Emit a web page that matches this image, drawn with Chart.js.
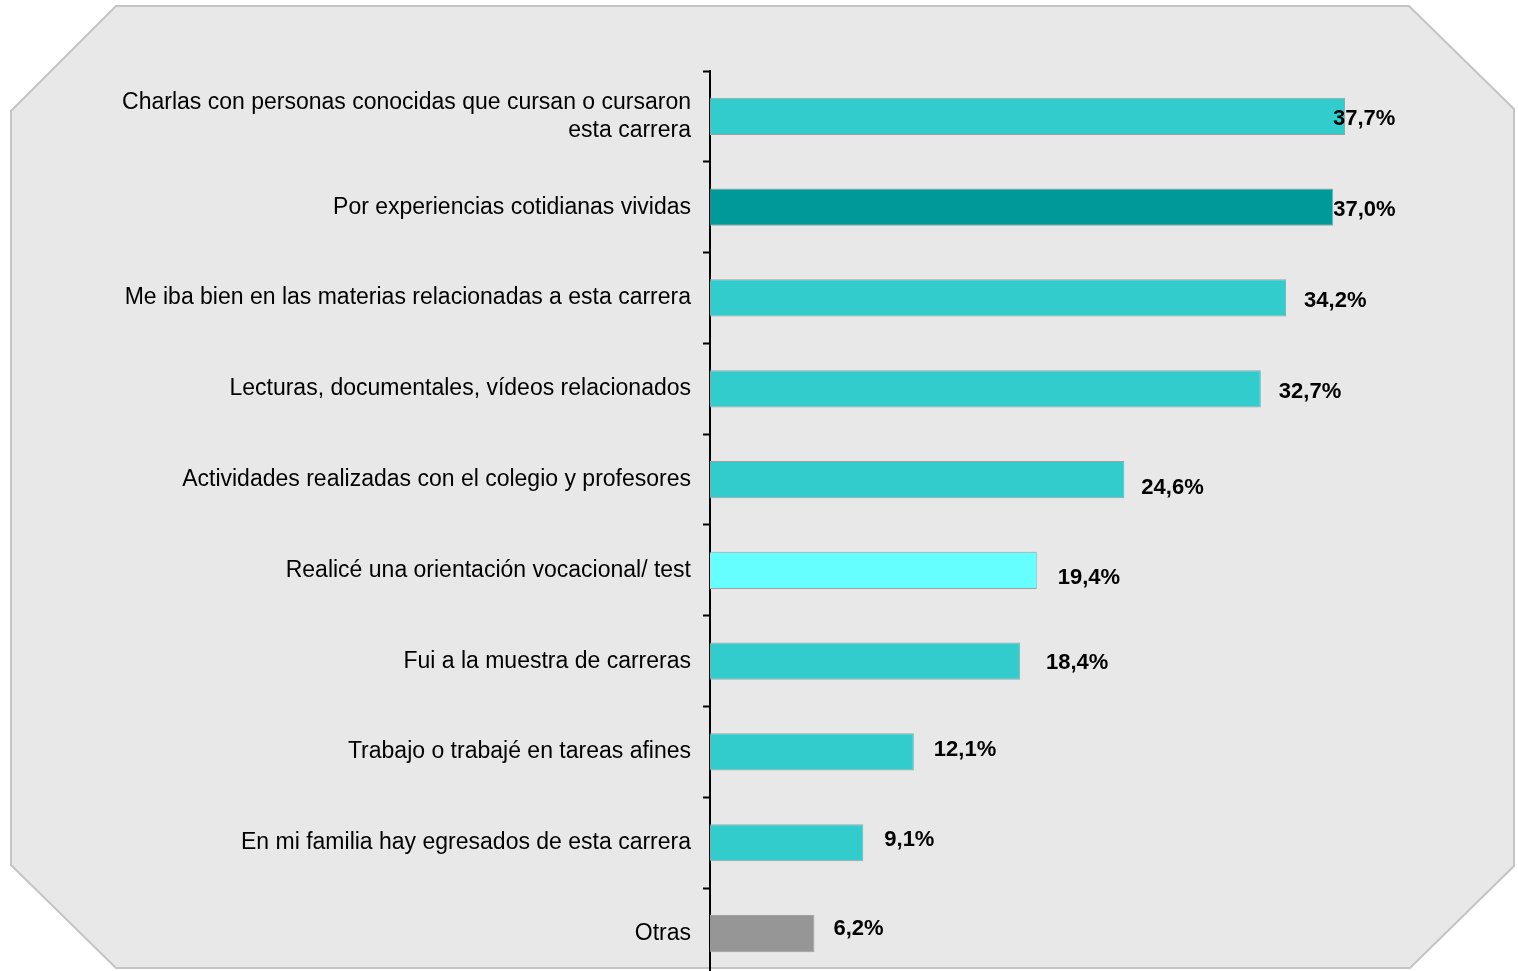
<!DOCTYPE html>
<html>
<head>
<meta charset="utf-8">
<script src="https://cdn.jsdelivr.net/npm/chart.js@4/dist/chart.umd.min.js"></script>
<style>
  html, body { margin: 0; padding: 0; overflow: hidden; background: #fff; }
  #wrap { width: 1518px; height: 1019px; }
</style>
</head>
<body>
<div id="wrap"><canvas id="chart1"></canvas></div>
<script>
// categories (top to bottom)
var categories = [
  ["Charlas con personas conocidas que cursan o cursaron", "esta carrera"],
  "Por experiencias cotidianas vividas",
  "Me iba bien en las materias relacionadas a esta carrera",
  "Lecturas, documentales, vídeos relacionados",
  "Actividades realizadas con el colegio y profesores",
  "Realicé una orientación vocacional/ test",
  "Fui a la muestra de carreras",
  "Trabajo o trabajé en tareas afines",
  "En mi familia hay egresados de esta carrera",
  "Otras"
];
var values = [37.7, 37.0, 34.2, 32.7, 24.6, 19.4, 18.4, 12.1, 9.1, 6.2];
var valueLabels = ["37,7%", "37,0%", "34,2%", "32,7%", "24,6%", "19,4%", "18,4%", "12,1%", "9,1%", "6,2%"];

var barColors = ["#33CCCC", "#009999", "#33CCCC", "#33CCCC", "#33CCCC", "#66FFFF", "#33CCCC", "#33CCCC", "#33CCCC", "#969696"];
// small nudges for the value labels [dx, dy]
var labelNudge = [[-12, 3], [0, 3], [18, 3], [18, 3], [17, 8], [21, 8], [26, 2], [20, -2], [21, -3], [19, -5]];

//Octagon background
var octagonBg = {
  id: 'octagonBg',
  beforeDraw: function(chart) {
    var c = chart.ctx;
    c.save();
    c.beginPath();
    c.moveTo(116, 6);
    c.lineTo(1409, 6);
    c.lineTo(1514, 109);
    c.lineTo(1514, 866);
    c.lineTo(1410, 968);
    c.lineTo(116, 968);
    c.lineTo(11, 865);
    c.lineTo(11, 111);
    c.closePath();
    c.fillStyle = "#E8E8E8";
    c.fill();
    c.lineWidth = 2;
    c.strokeStyle = "#C4C4C4";
    c.stroke();
    c.restore();
  }
};

//Value labels at the end of the bars
var valueLabelPlugin = {
  id: 'valueLabels',
  afterDatasetsDraw: function(chart) {
    var c = chart.ctx;
    var meta = chart.getDatasetMeta(0);
    c.save();
    c.font = "bold 22px 'Liberation Sans', Arial, sans-serif";
    c.fillStyle = "#000";
    c.textAlign = "left";
    c.textBaseline = "middle";
    meta.data.forEach(function(bar, i) {
      c.fillText(valueLabels[i], bar.x + labelNudge[i][0], bar.y + labelNudge[i][1]);
    });
    c.restore();
  }
};

var ctx = document.getElementById("chart1").getContext('2d');

var myChart = new Chart(ctx, {
  type: 'bar',
  data: {
    labels: categories,
    datasets: [{
      data: values,
      backgroundColor: barColors,
      borderColor: "#A0A0A0",
      borderWidth: 1,
      borderSkipped: 'left',
      categoryPercentage: 1,
      barPercentage: 0.41
    }]
  },
  options: {
    indexAxis: 'y',
    responsive: true,
    maintainAspectRatio: false,
    animation: false,
    layout: { padding: { top: 71, right: 50, bottom: 2, left: 0 } },
    plugins: {
      legend: { display: false },
      tooltip: { enabled: false }
    },
    scales: {
      x: {
        display: false,
        min: 0,
        max: 45
      },
      y: {
        afterFit: function(scale) { scale.width = 710; },
        border: { display: true, color: "#000", width: 2 },
        grid: {
          offset: true,
          drawOnChartArea: false,
          drawTicks: true,
          tickLength: 7,
          tickWidth: 2,
          tickColor: "#000"
        },
        ticks: {
          color: "#000",
          padding: 12,
          font: { family: "'Liberation Sans', Arial, sans-serif", size: 23, lineHeight: 1.22 }
        }
      }
    }
  },
  plugins: [octagonBg, valueLabelPlugin]
});
</script>
</body>
</html>
